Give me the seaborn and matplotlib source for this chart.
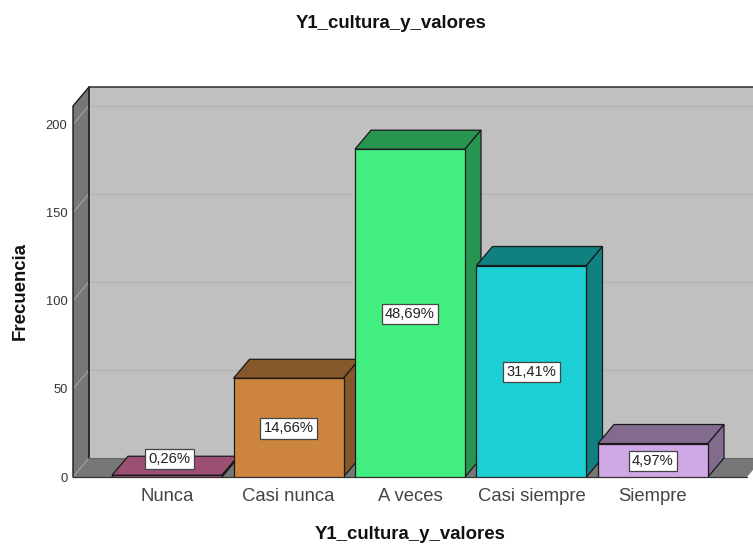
from __future__ import annotations

import matplotlib as mpl
mpl.use("Agg")
import matplotlib.pyplot as plt
import numpy as np
import pandas as pd
import seaborn as sns
from matplotlib.patches import Polygon

categories = ["Nunca", "Casi nunca", "A veces", "Casi siempre", "Siempre"]
counts = [1, 56, 186, 120, 19]
percents = ["0,26%", "14,66%", "48,69%", "31,41%", "4,97%"]
front_colors = ["#A8557D", "#CC843F", "#43EF80", "#1BCFD2", "#CFA8E6"]
shade_colors = ["#9B4F73", "#84582A", "#27944F", "#108080", "#836A8F"]
y_ticks = [0, 50, 100, 150, 200]
title = "Y1_cultura_y_valores"
y_label = "Frecuencia"

W, H = 753, 545
LEFT, RIGHT, BOTTOM, TOP = 73, 747, 477, 106
DEPTH_X, DEPTH_Y = 16, 19
STEP_PX = 121.5
PX_PER_COUNT = 1.7625


def poly(ax, pts, face, z, edge="none", lw=0.0):
    ax.add_patch(Polygon(pts, closed=True, facecolor=face, edgecolor=edge, linewidth=lw, zorder=z, clip_on=False, joinstyle="miter"))


def main() -> None:
    sns.set_theme(style="white")
    plt.rcParams["font.family"] = ["Liberation Sans", "DejaVu Sans"]
    fig = plt.figure(figsize=(W / 100, H / 100), dpi=100, facecolor="white")
    ax = fig.add_axes([LEFT / W, 1 - BOTTOM / H, (RIGHT - LEFT) / W, (BOTTOM - TOP) / H])
    ax.patch.set_visible(False)

    df = pd.DataFrame({"cat": categories, "n": counts})
    sns.barplot(
        data=df, x="cat", y="n", hue="cat", order=categories, hue_order=categories,
        palette=front_colors, dodge=False, width=110 / STEP_PX, legend=False,
        edgecolor="#1a1a1a", linewidth=0.9, saturation=1, ax=ax, zorder=5,
    )
    x0 = (LEFT - 167) / STEP_PX
    x1 = x0 + (RIGHT - LEFT) / STEP_PX
    y1 = (BOTTOM - TOP) / PX_PER_COUNT
    ax.set_xlim(x0, x1)
    ax.set_ylim(0, y1)
    dx = DEPTH_X / STEP_PX
    dy = DEPTH_Y / PX_PER_COUNT

    # walls and floor
    poly(ax, [(x0 + dx, dy), (x1 + dx, dy), (x1 + dx, y1 + dy), (x0 + dx, y1 + dy)], "#C0C0C0", 1)
    poly(ax, [(x0, 0), (x0 + dx, dy), (x0 + dx, y1 + dy), (x0, y1)], "#777777", 1)
    poly(ax, [(x0, 0), (x1, 0), (x1 + dx, dy), (x0 + dx, dy)], "#777777", 1)
    for t in y_ticks[1:]:
        ax.plot([x0 + dx, x1 + dx], [t + dy, t + dy], color="#B2B2B2", lw=0.9, zorder=2, clip_on=False)
    for t in y_ticks:
        ax.plot([x0, x0 + dx], [t, t + dy], color="#A0A0A0", lw=0.8, zorder=2, clip_on=False)
    ax.plot([x0, x0, x0 + dx, x1 + dx], [0, y1, y1 + dy, y1 + dy], color="#1a1a1a", lw=1.0, zorder=3, clip_on=False)
    ax.plot([x0 + dx, x0 + dx], [dy, y1 + dy], color="#1a1a1a", lw=1.2, zorder=3, clip_on=False)
    ax.plot([x0 + dx, x1 + dx], [dy, dy], color="#666666", lw=0.8, zorder=3, clip_on=False)
    ax.plot([x0, x1], [0, 0], color="#333333", lw=0.9, zorder=3, clip_on=False)

    # depth faces of the bars, from the bars seaborn drew
    bars = sorted(ax.patches[:len(categories)], key=lambda b: b.get_x())
    for i, bar in enumerate(bars):
        z = 4 + i * 0.1
        bar.set_zorder(z + 0.05)
        xa, xb = bar.get_x(), bar.get_x() + bar.get_width()
        h = bar.get_height()
        poly(ax, [(xa, h), (xb, h), (xb + dx, h + dy), (xa + dx, h + dy)], shade_colors[i], z, "#1a1a1a", 0.9)
        poly(ax, [(xb, 0), (xb + dx, dy), (xb + dx, h + dy), (xb, h)], shade_colors[i], z, "#1a1a1a", 0.9)
        label_y = h / 2 - 0.4 if h > 5 else 10.2
        ax.text(
            (xa + xb) / 2 + (0.02 if h <= 5 else 0), label_y, percents[i], ha="center", va="center",
            fontsize=10.6, color="#222222", zorder=8,
            bbox=dict(boxstyle="square,pad=0.22", facecolor="white", edgecolor="#444444", linewidth=0.9),
        )

    ax.set_xticks(range(len(categories)))
    ax.set_xticklabels(categories, fontsize=13.3, color="#444444")
    ax.set_yticks(y_ticks)
    ax.set_yticklabels([str(t) for t in y_ticks], fontsize=9.3, color="#333333")
    ax.tick_params(axis="x", length=0, pad=8)
    ax.tick_params(axis="y", length=0, pad=4)
    ax.set_xlabel("")
    ax.set_ylabel("")
    sns.despine(ax=ax, left=True, bottom=True)

    fig.text(391 / W, 1 - 23.5 / H, title, ha="center", va="center", fontsize=13.4, fontweight="bold", color="#111111")
    fig.text(410 / W, 1 - 534.5 / H, title, ha="center", va="center", fontsize=13.4, fontweight="bold", color="#111111")
    fig.text(20 / W, 1 - 291 / H, y_label, ha="center", va="center", rotation=90, fontsize=13.4, fontweight="bold", color="#111111")
    fig.savefig("out.png", dpi=100)


if __name__ == "__main__":
    main()
